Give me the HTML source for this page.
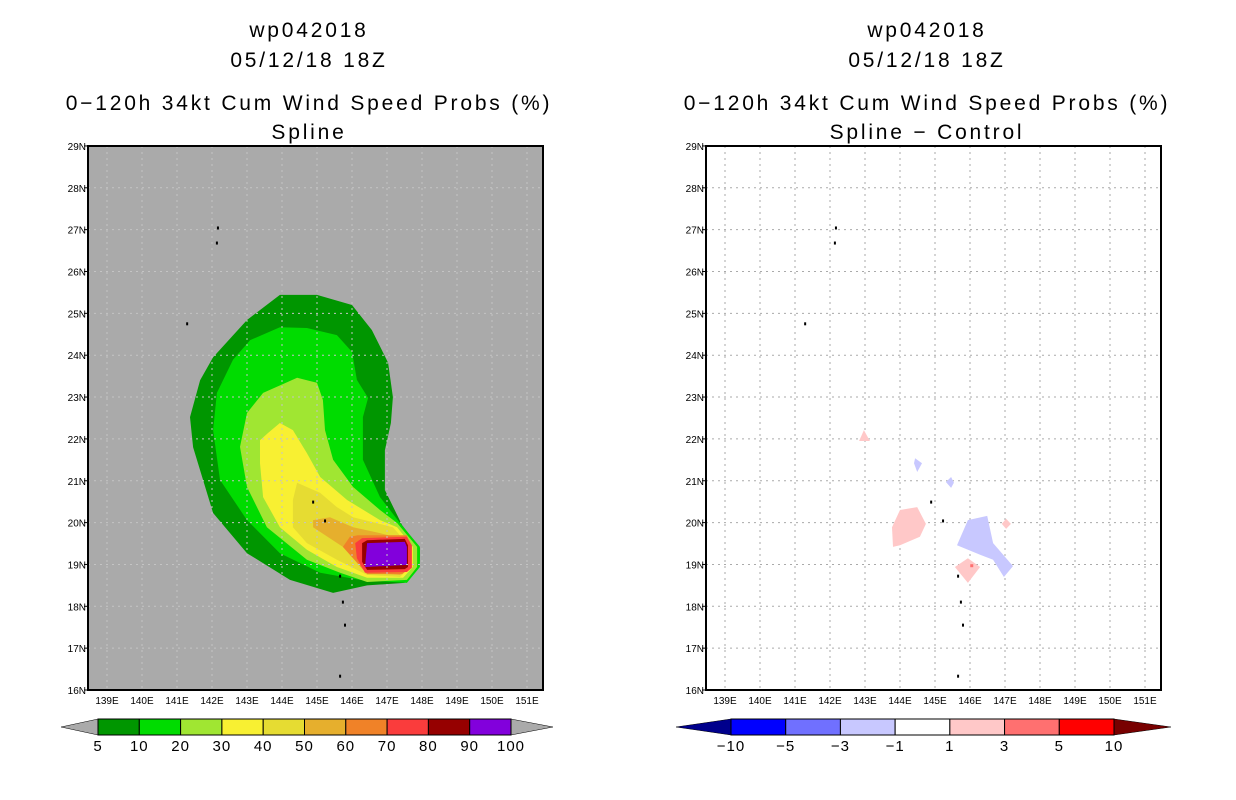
<!DOCTYPE html>
<html><head><meta charset="utf-8"><style>
body{margin:0;background:#fff;width:1236px;height:800px;overflow:hidden}
svg{display:block}
text{font-family:"Liberation Sans",sans-serif;fill:#000}
</style></head><body>
<svg id="s" width="1236" height="800"></svg>
<script>
const lonTicks=[139,140,141,142,143,144,145,146,147,148,149,150,151];
const latTicks=[16,17,18,19,20,21,22,23,24,25,26,27,28,29];
const probLevels=['5','10','20','30','40','50','60','70','80','90','100'];
const probColors=['#009600','#00dc00','#a0e632','#f8f032','#e6dc32','#e6af2d','#f08228','#fa3c3c','#960000','#8200dc'];
const diffLabels=['\u221210','\u22125','\u22123','\u22121','1','3','5','10'];
const diffColors=['#0000ff','#7070ff','#c8c8ff','#ffffff','#ffc8c8','#ff7070','#ff0000'];
const c5=[[143.94,25.44],[145.0,25.44],[146.0,25.2],[146.57,24.6],[147.03,23.82],[147.17,23.0],[147.11,22.38],[146.94,21.73],[146.94,20.78],[147.43,19.94],[147.94,19.39],[147.94,19.1],[147.5,18.56],[146.43,18.5],[145.46,18.32],[144.23,18.63],[143.0,19.27],[142.03,20.23],[141.46,21.8],[141.37,22.52],[141.66,23.4],[142.03,23.95],[143.0,24.84]];
const c10=[[143.94,24.67],[144.71,24.65],[145.57,24.48],[146.0,24.08],[146.14,23.41],[146.46,22.98],[146.31,22.52],[146.31,21.5],[146.8,20.61],[147.37,19.99],[147.94,19.42],[147.94,18.94],[147.57,18.56],[146.23,18.63],[145.09,18.8],[143.94,19.27],[143.0,20.06],[142.23,21.02],[142.03,22.21],[142.14,23.1],[142.6,23.89],[143.09,24.36]];
const c20=[[144.43,23.46],[145.0,23.34],[145.17,22.93],[145.23,22.21],[145.46,21.5],[146.03,20.85],[146.8,20.3],[147.29,19.99],[147.86,19.42],[147.86,18.94],[147.57,18.63],[146.43,18.58],[145.66,18.8],[144.71,19.11],[143.57,19.89],[143.0,20.85],[142.8,21.81],[143.0,22.62],[143.46,23.1]];
const c30=[[143.94,22.38],[144.31,22.21],[144.71,21.66],[145.09,21.09],[145.86,20.54],[146.8,20.06],[147.29,19.89],[147.74,19.42],[147.74,18.94],[147.46,18.68],[146.43,18.68],[145.57,18.94],[144.71,19.35],[143.94,19.89],[143.46,20.61],[143.37,21.42],[143.37,21.97],[143.6,22.14]];
const c40=[[144.43,20.95],[145.09,20.71],[145.57,20.37],[146.03,20.13],[147.17,19.89],[147.66,19.42],[147.66,18.94],[147.37,18.7],[146.43,18.75],[145.57,19.11],[144.71,19.51],[144.31,19.89],[144.31,20.54]];
const c50=[[144.89,20.06],[145.37,20.13],[146.03,19.89],[146.8,19.75],[147.57,19.58],[147.6,18.94],[147.37,18.75],[146.43,18.8],[145.74,19.42],[144.89,19.89]];
const c60=[[145.94,19.66],[146.17,19.7],[147.57,19.7],[147.66,19.46],[147.66,18.92],[147.43,18.77],[146.43,18.77],[145.74,19.42]];
const c70=[[146.09,19.51],[146.29,19.63],[147.57,19.66],[147.71,19.46],[147.71,18.92],[147.57,18.82],[146.37,18.8],[146.14,19.15]];
const c80=[[146.29,19.51],[146.43,19.58],[147.51,19.61],[147.6,19.46],[147.6,18.94],[147.51,18.89],[146.43,18.87],[146.29,19.06]];
const c90=[[146.43,19.51],[147.51,19.54],[147.57,19.42],[147.57,18.99],[146.37,18.94]];
const diffPos=[
 [[142.97,22.21],[142.83,21.95],[143.14,21.95]],
 [[144.0,20.3],[144.49,20.37],[144.74,19.97],[144.57,19.66],[144.0,19.46],[143.8,19.42],[143.77,19.89]],
 [[147.03,20.09],[147.17,19.97],[147.03,19.85],[146.91,19.97]],
 [[145.94,19.15],[146.29,18.94],[145.94,18.56],[145.57,18.94]]];
const diffNeg=[
 [[144.43,21.54],[144.63,21.42],[144.49,21.21],[144.4,21.42]],
 [[145.46,21.09],[145.54,20.95],[145.46,20.83],[145.31,20.97]],
 [[145.94,20.06],[146.49,20.16],[146.66,19.51],[147.23,18.96],[146.97,18.7],[146.66,19.11],[146.29,19.23],[145.63,19.46]]];
const islands=[[142.17,27.04],[142.14,26.68],[141.29,24.75],[144.89,20.49],[145.23,20.04],[145.66,18.72],[145.74,18.1],[145.8,17.55],[145.66,16.33]];

const NS='http://www.w3.org/2000/svg';
const svg=document.getElementById('s');
function mk(tag,at,par){const e=document.createElementNS(NS,tag);for(const k in at)e.setAttribute(k,at[k]);(par||svg).appendChild(e);return e;}
function X(lon,off){return off+107+(lon-139)*35;}
function Y(lat){return 690-(lat-16)*41.85;}
function pts(p,off){return p.map(q=>X(q[0],off).toFixed(1)+','+Y(q[1]).toFixed(1)).join(' ');}
function txt(s,x,y,size,anchor,par){const t=mk('text',{x:x,y:y,'font-size':size,'text-anchor':anchor||'middle'},par);t.textContent=s;return t;}

function panel(off,bg,titleLines,name){
  const g=mk('g',{});
  
  
  const cx=off+309;
  const ys=[37,67,110,139];
  titleLines.forEach((s,i)=>{const t=txt(s,cx,ys[i],21,'middle',g);t.setAttribute('letter-spacing','2.8');
    
    });
  const r=mk('rect',{x:off+88,y:146,width:455,height:544,fill:bg},g);
  
  
  return g;
}
function grid(off,g,col){
  lonTicks.forEach(l=>{const ln=mk('line',{x1:X(l,off),x2:X(l,off),y1:146,y2:690,stroke:col,'stroke-width':1,'stroke-dasharray':'2,4'},g);
    
    });
  latTicks.forEach(l=>{const ln=mk('line',{x1:off+88,x2:off+543,y1:Y(l),y2:Y(l),stroke:col,'stroke-width':1,'stroke-dasharray':'2,4'},g);
    
    });
}
function axes(off,g){
  islands.forEach(p=>{const d=mk('rect',{x:X(p[0],off)-1,y:Y(p[1])-1.5,width:2,height:3,fill:'#000'},g);
    
    });
  const b=mk('rect',{x:off+88,y:146,width:455,height:544,fill:'none',stroke:'#000','stroke-width':2},g);
  
  
  latTicks.forEach(l=>{const t=txt(l+'N',off+86,Y(l)+4,10,'end',g);
    
    
    mk('line',{x1:off+84,x2:off+88,y1:Y(l),y2:Y(l),stroke:'#000'},g);});
  lonTicks.forEach(l=>{const t=txt(l+'E',X(l,off),704,10,'middle',g);
    
    });
}

// Left panel
const gl=panel(0,'#aaaaaa',['wp042018','05/12/18 18Z','0\u2212120h 34kt Cum Wind Speed Probs (%)','Spline'],'left-panel');
[c5,c10,c20,c30,c40,c50,c60,c70,c80,c90].forEach((c,i)=>{
  const p=mk('polygon',{points:pts(c,0),fill:probColors[i]},gl);
  
  });
grid(0,gl,'#c4c4c4');
axes(0,gl);

// Right panel
const gr=panel(618,'#ffffff',['wp042018','05/12/18 18Z','0\u2212120h 34kt Cum Wind Speed Probs (%)','Spline \u2212 Control'],'right-panel');
grid(618,gr,'#aaaaaa');
diffPos.forEach(c=>{const p=mk('polygon',{points:pts(c,618),fill:'#ffc8c8'},gr);
  
  });
diffNeg.forEach(c=>{const p=mk('polygon',{points:pts(c,618),fill:'#c8c8ff'},gr);
  
  });
const rd=mk('rect',{x:X(146.05,618)-1.5,y:Y(18.97)-1.5,width:3,height:3,fill:'#ff7070'},gr);


axes(618,gr);

// Colorbars
function colorbar(x0,x1,tipL,tipR,colors,labels,lc,rc,name){
  const g=mk('g',{});
  
  
  const y0=719,y1=735,n=colors.length,w=(x1-x0)/n;
  const tl=mk('polygon',{points:`${tipL},727 ${x0},${y0} ${x0},${y1}`,fill:lc,stroke:'#000','stroke-width':0.5},g);
  
  
  const tr=mk('polygon',{points:`${tipR},727 ${x1},${y0} ${x1},${y1}`,fill:rc,stroke:'#000','stroke-width':0.5},g);
  
  
  colors.forEach((c,i)=>{const r=mk('rect',{x:x0+i*w,y:y0,width:w,height:y1-y0,fill:c,stroke:'#000','stroke-width':1},g);
    
    });
  labels.forEach((s,i)=>{const t=txt(s,x0+i*w,751,15,'middle',g);
    t.setAttribute('letter-spacing','1');
    
    });
}
colorbar(98,511,61,553,probColors,probLevels,'#aaaaaa','#aaaaaa','prob-colorbar');
colorbar(731,1114,676,1171,diffColors,diffLabels,'#00008c','#780000','diff-colorbar');
</script>
</body></html>
